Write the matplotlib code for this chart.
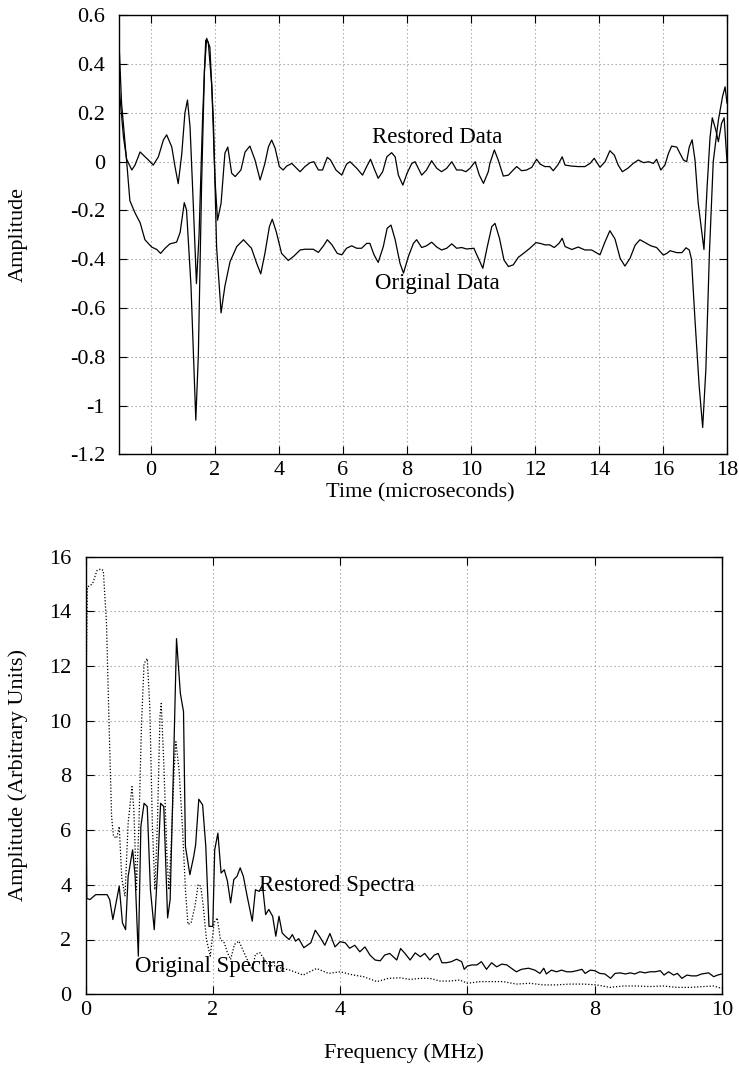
import matplotlib
matplotlib.use("Agg")
import matplotlib.pyplot as plt

plt.rcParams['font.family'] = ['Liberation Serif', 'DejaVu Serif']
plt.rcParams['axes.unicode_minus'] = False

# ---------------- Top panel data (time in microseconds) ----------------
restored_t = [-1.0, -0.86, -0.76, -0.60, -0.50, -0.34, -0.24, -0.08, 0.07, 0.23, 0.39, 0.49, 0.65, 0.75,
              0.85, 0.96, 1.06, 1.14, 1.22, 1.32, 1.42, 1.50, 1.61, 1.71, 1.79, 1.90, 2.00, 2.08, 2.19,
              2.31, 2.40, 2.52, 2.63, 2.81, 2.94, 3.09, 3.25, 3.41, 3.56, 3.67, 3.77, 3.88, 4.01, 4.13,
              4.24, 4.40, 4.55, 4.66, 4.81, 4.97, 5.09, 5.23, 5.36, 5.51, 5.61, 5.78, 5.96, 6.11, 6.22,
              6.43, 6.61, 6.74, 6.86, 6.97, 7.10, 7.24, 7.37, 7.52, 7.63, 7.73, 7.87, 8.00, 8.15, 8.25,
              8.46, 8.61, 8.77, 8.93, 9.08, 9.24, 9.40, 9.55, 9.71, 9.84, 9.97, 10.13, 10.26, 10.39,
              10.54, 10.59, 10.73, 10.85, 11.01, 11.17, 11.32, 11.43, 11.58, 11.74, 11.90, 12.05, 12.16,
              12.31, 12.46, 12.57, 12.71, 12.85, 12.94, 13.15, 13.35, 13.56, 13.72, 13.85, 14.03, 14.19,
              14.34, 14.48, 14.60, 14.73, 14.90, 15.07, 15.23, 15.39, 15.55, 15.70, 15.80, 15.93, 16.06,
              16.17, 16.27, 16.43, 16.53, 16.64, 16.74, 16.82, 16.91, 17.00, 17.10, 17.28, 17.38, 17.47,
              17.54, 17.65, 17.73, 17.83, 17.91, 18.0]
restored_y = [0.31, 0.10, 0.01, -0.034, -0.014, 0.04, 0.027, 0.007, -0.014, 0.02, 0.09, 0.11, 0.06, -0.02,
              -0.09, 0.03, 0.20, 0.253, 0.143, -0.17, -0.50, -0.307, 0.17, 0.499, 0.49, 0.31, -0.075, -0.24,
              -0.17, 0.035, 0.06, -0.047, -0.061, -0.034, 0.04, 0.064, 0.007, -0.075, -0.007, 0.061, 0.089,
              0.055, -0.02, -0.034, -0.018, -0.007, -0.027, -0.041, -0.02, -0.004, 0.0, -0.034, -0.034,
              0.018, 0.007, -0.034, -0.055, -0.01, 0.0, -0.027, -0.055, -0.02, 0.01, -0.027, -0.068,
              -0.041, 0.02, 0.037, 0.02, -0.055, -0.096, -0.048, -0.007, 0.0, -0.055, -0.034, 0.004,
              -0.027, -0.041, -0.027, 0.0, -0.034, -0.034, -0.041, -0.027, 0.0, -0.055, -0.089, -0.041,
              -0.007, 0.048, 0.007, -0.059, -0.055, -0.034, -0.02, -0.037, -0.034, -0.023, 0.01, -0.01,
              -0.02, -0.02, -0.037, -0.014, 0.02, -0.014, -0.018, -0.02, -0.02, -0.007, 0.014, -0.023,
              0.0, 0.045, 0.027, -0.014, -0.041, -0.027, -0.007, 0.007, -0.004, 0.0, -0.007, 0.01, -0.034,
              -0.014, 0.034, 0.064, 0.06, 0.034, 0.007, 0.0, 0.06, 0.09, 0.007, -0.17, -0.36, -0.10, 0.10,
              0.18, 0.13, 0.082, 0.157, 0.18, 0.0]

original_t = [-1.0, -0.92, -0.76, -0.66, -0.50, -0.34, -0.19, 0.02, 0.18, 0.30, 0.44, 0.59, 0.80, 0.91,
              1.04, 1.11, 1.25, 1.40, 1.48, 1.58, 1.67, 1.74, 1.84, 1.95, 2.05, 2.19, 2.31, 2.47, 2.68,
              2.89, 3.14, 3.30, 3.43, 3.56, 3.70, 3.79, 3.92, 4.08, 4.29, 4.45, 4.66, 4.81, 5.07, 5.23,
              5.39, 5.51, 5.65, 5.82, 5.96, 6.11, 6.27, 6.43, 6.58, 6.74, 6.84, 6.97, 7.10, 7.26, 7.38,
              7.50, 7.63, 7.78, 7.89, 8.04, 8.20, 8.30, 8.46, 8.61, 8.77, 8.93, 9.08, 9.24, 9.40, 9.55,
              9.71, 9.86, 10.09, 10.23, 10.37, 10.51, 10.65, 10.75, 10.89, 11.03, 11.17, 11.32, 11.48,
              11.64, 11.84, 12.03, 12.16, 12.31, 12.46, 12.60, 12.75, 12.85, 12.94, 13.15, 13.35, 13.56,
              13.77, 14.03, 14.19, 14.34, 14.50, 14.66, 14.81, 14.97, 15.13, 15.28, 15.44, 15.62, 15.80,
              16.01, 16.12, 16.22, 16.43, 16.59, 16.72, 16.82, 16.89, 17.00, 17.13, 17.24, 17.34, 17.45,
              17.57, 17.73, 17.86, 17.94, 18.0]
original_y = [0.49, 0.24, 0.0, -0.16, -0.21, -0.25, -0.32, -0.35, -0.36, -0.376, -0.355, -0.337, -0.33,
              -0.29, -0.168, -0.198, -0.51, -1.06, -0.79, -0.10, 0.376, 0.506, 0.47, 0.17, -0.35, -0.62,
              -0.51, -0.41, -0.348, -0.32, -0.355, -0.416, -0.46, -0.376, -0.266, -0.236, -0.29, -0.376,
              -0.405, -0.389, -0.362, -0.359, -0.359, -0.372, -0.345, -0.32, -0.34, -0.376, -0.382,
              -0.355, -0.345, -0.355, -0.355, -0.335, -0.335, -0.382, -0.413, -0.348, -0.273, -0.26,
              -0.32, -0.416, -0.457, -0.39, -0.335, -0.32, -0.352, -0.345, -0.33, -0.35, -0.362, -0.355,
              -0.337, -0.355, -0.352, -0.358, -0.355, -0.396, -0.437, -0.348, -0.266, -0.253, -0.314,
              -0.403, -0.43, -0.423, -0.392, -0.376, -0.355, -0.332, -0.335, -0.341, -0.341, -0.352,
              -0.335, -0.314, -0.348, -0.36, -0.35, -0.362, -0.362, -0.382, -0.328, -0.283, -0.317,
              -0.396, -0.428, -0.396, -0.342, -0.32, -0.332, -0.345, -0.352, -0.383, -0.376, -0.365,
              -0.373, -0.373, -0.353, -0.362, -0.40, -0.65, -0.92, -1.09, -0.85, -0.376, 0.0, 0.17,
              0.267, 0.307, 0.24]

time_ticks = [0, 2, 4, 6, 8, 10, 12, 14, 16, 18]
time_ticklabels = ['0', '2', '4', '6', '8', '10', '12', '14', '16', '18']
amp_ticks = [0.6, 0.4, 0.2, 0.0, -0.2, -0.4, -0.6, -0.8, -1.0, -1.2]
amp_ticklabels = ['0.6', '0.4', '0.2', '0', '-0.2', '-0.4', '-0.6', '-0.8', '-1', '-1.2']

# ---------------- Bottom panel data (frequency in MHz) ----------------
rest_f = [0.0, 0.02, 0.07, 0.16, 0.26, 0.34, 0.38, 0.43, 0.53, 0.58, 0.63, 0.67, 0.74, 0.78, 0.83, 0.87,
          0.92, 0.97, 1.02, 1.08, 1.13, 1.18, 1.23, 1.29, 1.33, 1.38, 1.43, 1.49, 1.54, 1.57, 1.64, 1.70,
          1.73, 1.78, 1.84, 1.89, 1.94, 2.00, 2.03, 2.08, 2.13, 2.18, 2.23, 2.28, 2.33, 2.38, 2.43, 2.48,
          2.54, 2.62, 2.67, 2.73, 2.78, 2.83, 2.88, 2.94, 2.99, 3.04, 3.09, 3.14, 3.20, 3.25, 3.30, 3.35,
          3.43, 3.54, 3.61, 3.68, 3.76, 3.84, 3.92, 4.00, 4.08, 4.15, 4.23, 4.31, 4.39, 4.47, 4.55, 4.63,
          4.70, 4.78, 4.89, 4.95, 5.02, 5.10, 5.18, 5.26, 5.33, 5.41, 5.48, 5.54, 5.60, 5.67, 5.75, 5.83,
          5.91, 5.95, 6.00, 6.07, 6.15, 6.22, 6.30, 6.38, 6.46, 6.54, 6.62, 6.69, 6.77, 6.85, 6.96, 7.06,
          7.14, 7.20, 7.24, 7.32, 7.40, 7.48, 7.56, 7.64, 7.72, 7.80, 7.85, 7.93, 8.00, 8.08, 8.16, 8.25,
          8.32, 8.40, 8.48, 8.56, 8.63, 8.71, 8.79, 8.87, 8.95, 9.03, 9.09, 9.16, 9.24, 9.30, 9.37, 9.45,
          9.52, 9.60, 9.68, 9.79, 9.87, 9.93, 10.0]
rest_a = [9.8, 3.5, 3.46, 3.64, 3.64, 3.64, 3.46, 2.73, 3.95, 2.61, 2.36, 4.31, 5.28, 4.31, 1.39, 6.13,
          6.98, 6.86, 3.82, 2.36, 4.43, 6.98, 6.86, 2.79, 3.46, 8.08, 13.0, 11.0, 10.33, 5.40, 4.37, 5.04,
          5.46, 7.13, 6.92, 5.40, 2.48, 2.48, 5.28, 5.89, 4.43, 4.55, 4.13, 3.34, 4.19, 4.31, 4.62, 4.31,
          3.58, 2.67, 3.82, 3.76, 4.0, 2.91, 3.10, 2.85, 2.12, 2.85, 2.24, 2.12, 2.0, 2.18, 1.94, 2.03,
          1.70, 1.88, 2.34, 2.10, 1.79, 2.22, 1.73, 1.92, 1.88, 1.68, 1.79, 1.55, 1.73, 1.43, 1.25, 1.22,
          1.43, 1.49, 1.25, 1.67, 1.49, 1.25, 1.51, 1.37, 1.49, 1.25, 1.43, 1.49, 1.15, 1.15, 1.19, 1.28,
          1.19, 0.91, 1.03, 1.07, 1.07, 1.19, 0.91, 1.15, 1.0, 1.10, 1.07, 0.95, 0.82, 0.91, 0.95, 0.88,
          0.76, 0.95, 0.74, 0.88, 0.82, 0.88, 0.82, 0.82, 0.86, 0.91, 0.76, 0.88, 0.86, 0.76, 0.74, 0.58,
          0.76, 0.78, 0.74, 0.78, 0.74, 0.82, 0.78, 0.82, 0.82, 0.86, 0.70, 0.82, 0.70, 0.76, 0.58, 0.70,
          0.67, 0.67, 0.74, 0.78, 0.64, 0.70, 0.74]

orig_f = [0.0, 0.03, 0.11, 0.18, 0.24, 0.28, 0.33, 0.37, 0.41, 0.44, 0.49, 0.53, 0.57, 0.62, 0.67, 0.73,
          0.76, 0.80, 0.84, 0.88, 0.92, 0.97, 1.01, 1.05, 1.09, 1.13, 1.17, 1.19, 1.23, 1.28, 1.31, 1.35,
          1.39, 1.42, 1.47, 1.52, 1.57, 1.61, 1.66, 1.72, 1.77, 1.81, 1.85, 1.90, 1.96, 2.02, 2.07, 2.12,
          2.18, 2.23, 2.28, 2.34, 2.41, 2.48, 2.54, 2.62, 2.67, 2.74, 2.81, 2.88, 2.96, 3.08, 3.21, 3.42,
          3.63, 3.82, 4.00, 4.21, 4.37, 4.58, 4.76, 4.94, 5.10, 5.26, 5.41, 5.57, 5.73, 5.88, 6.00, 6.20,
          6.41, 6.56, 6.77, 6.98, 7.19, 7.40, 7.61, 7.82, 8.03, 8.24, 8.45, 8.66, 8.87, 9.08, 9.29, 9.50,
          9.71, 9.87, 10.0]
orig_a = [10.0, 14.89, 15.0, 15.49, 15.55, 15.49, 13.55, 9.90, 6.5, 5.77, 5.71, 6.13, 4.25, 3.58, 6.25,
          7.59, 6.74, 3.82, 6.25, 9.90, 12.09, 12.27, 10.51, 6.25, 3.82, 6.25, 10.15, 10.63, 8.44, 5.04,
          3.82, 5.65, 8.08, 9.23, 8.20, 6.25, 3.82, 2.55, 2.61, 3.22, 4.01, 3.95, 3.22, 2.0, 1.39, 2.61,
          2.79, 2.0, 1.88, 1.52, 1.27, 1.82, 1.94, 1.58, 1.27, 0.91, 1.46, 1.52, 1.27, 1.03, 1.05, 0.95,
          0.88, 0.70, 0.94, 0.76, 0.82, 0.70, 0.64, 0.46, 0.58, 0.60, 0.54, 0.58, 0.58, 0.48, 0.48, 0.52,
          0.40, 0.46, 0.46, 0.46, 0.37, 0.40, 0.34, 0.34, 0.37, 0.37, 0.34, 0.25, 0.30, 0.30, 0.28, 0.30,
          0.25, 0.25, 0.28, 0.30, 0.21]

freq_ticks = [0, 2, 4, 6, 8, 10]
spec_ticks = [0, 2, 4, 6, 8, 10, 12, 14, 16]

FS = 16
fig = plt.figure(figsize=(7.39, 10.70), dpi=100)
W, H = 739, 1070


def px_axes(l, t, r, b):
    return fig.add_axes([l / W, 1 - b / H, (r - l) / W, (b - t) / H])


def style(ax):
    ax.grid(True, color='#a0a0a0', linestyle=(0, (1.2, 2.4)), linewidth=0.8)
    ax.set_axisbelow(True)
    ax.tick_params(direction='in', length=6, width=0.8, top=True, right=True,
                   labelsize=FS, color='black')
    ax.tick_params(axis='y', pad=10)
    ax.tick_params(axis='x', pad=5)
    for s in ax.spines.values():
        s.set_linewidth(1.0)


# ---- top ----
ax1 = px_axes(119, 15.4, 727, 454.3)
ax1.plot(restored_t, restored_y, color='black', lw=0.9)
ax1.plot(original_t, original_y, color='black', lw=0.9)
ax1.set_xlim(-1, 18)
ax1.set_ylim(-1.2, 0.6)
ax1.set_xticks(time_ticks)
ax1.set_xticklabels(time_ticklabels)
ax1.set_yticks(amp_ticks)
ax1.set_yticklabels(amp_ticklabels)
style(ax1)
ax1.text(6.9, 0.10, 'Restored Data', fontsize=16.5, ha='left', va='center')
ax1.text(7.0, -0.50, 'Original Data', fontsize=16.5, ha='left', va='center')
ax1.set_xlabel('Time (microseconds)', fontsize=FS, va='center')
ax1.xaxis.set_label_coords((420 - 119) / (727 - 119), (454.3 - 493) / (454.3 - 15.4))
ax1.set_ylabel('Amplitude', fontsize=FS, va='center')
ax1.yaxis.set_label_coords((18 - 119) / (727 - 119), 0.5)

# ---- bottom ----
ax2 = px_axes(85.5, 556.6, 722, 994.2)
ax2.plot(rest_f, rest_a, color='black', lw=0.9)
ax2.plot(orig_f, orig_a, color='black', lw=0.9, linestyle=(0, (1, 1.5)))
ax2.set_xlim(0, 10)
ax2.set_ylim(0, 16)
ax2.set_xticks(freq_ticks)
ax2.set_yticks(spec_ticks)
style(ax2)
ax2.text(2.73, 3.98, 'Restored Spectra', fontsize=16.5, ha='left', va='center')
ax2.text(0.78, 1.0, 'Original Spectra', fontsize=16.5, ha='left', va='center')
ax2.set_xlabel('Frequency (MHz)', fontsize=FS, va='center')
ax2.xaxis.set_label_coords((404 - 85.5) / (722 - 85.5), (994.2 - 1053) / (994.2 - 556.6))
ax2.set_ylabel('Amplitude (Arbitrary Units)', fontsize=FS, va='center')
ax2.yaxis.set_label_coords((18 - 85.5) / (722 - 85.5), 0.5)

fig.savefig('out.png', dpi=100)
